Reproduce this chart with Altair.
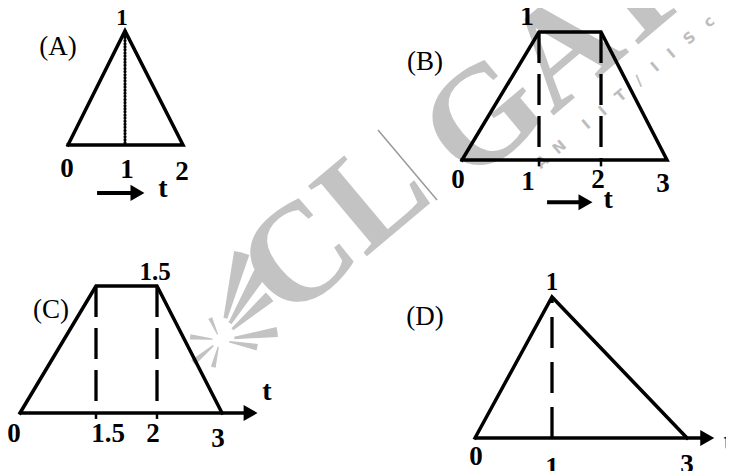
import altair as alt
import pandas as pd

# ---------------- data ----------------
# (A) triangle
a_t = [0, 1, 2]
a_v = [0, 1, 0]
a_ticks = [0, 1, 2]
a_tick_text = ["0", "1", "2"]
a_peak = (1, 1, "1")
a_guides = [1]

# (B) trapezoid
b_t = [0, 1, 2, 3]
b_v = [0, 1, 1, 0]
b_ticks = [0, 1, 2, 3]
b_tick_text = ["0", "1", "2", "3"]
b_peak = (1, 1, "1")
b_guides = [1, 2]

# (C) trapezoid
c_t = [0, 1.5, 2, 3]
c_v = [0, 1.5, 1.5, 0]
c_ticks = [0, 1.5, 2, 3]
c_tick_text = ["0", "1.5", "2", "3"]
c_peak = (2, 1.5, "1.5")
c_guides = [1.5, 2]

# (D) triangle
d_t = [0, 1, 3]
d_v = [0, 1, 0]
d_ticks = [0, 1, 3]
d_tick_text = ["0", "1", "3"]
d_peak = (1, 1, "1")
d_guides = [1]

# ---------------- layout / style ----------------
OFF = 8
FONT = "Liberation Serif"
INK = "black"
LW = 3.5


def px(vals):
    return [x - OFF for x in vals]


def X(field, xs):
    return alt.X(f"{field}:Q", scale=xs, axis=None)


def Y(field, ys):
    return alt.Y(f"{field}:Q", scale=ys, axis=None)


def panel(t, v, closed, ticks, tick_text, peak, guides, geom):
    xs = alt.Scale(domain=geom["xdom"], range=px(geom["xr"]), nice=False, zero=False, clamp=False)
    ys = alt.Scale(domain=geom["ydom"], range=px(geom["yr"]), nice=False, zero=False, clamp=False)
    layers = []

    # guide lines (dashed / dotted)
    peak_v = max(v)
    gdf = pd.DataFrame({"t": guides, "top": [peak_v] * len(guides), "bot": [0] * len(guides)})
    if geom["guide_from_top"]:
        genc = dict(x=X("t", xs), y=Y("top", ys), y2=alt.Y2("bot:Q"))
    else:
        genc = dict(x=X("t", xs), y=Y("bot", ys), y2=alt.Y2("top:Q"))
    layers.append(alt.Chart(gdf).mark_rule(color=INK, **geom["guide_style"]).encode(**genc))

    # small tick marks under the base at the guide positions
    if geom.get("tick_v") is not None:
        kdf = pd.DataFrame({"t": guides, "a": [0] * len(guides), "b": [geom["tick_v"]] * len(guides)})
        layers.append(alt.Chart(kdf).mark_rule(color=INK, strokeWidth=2.5).encode(
            x=X("t", xs), y=Y("a", ys), y2=alt.Y2("b:Q")))

    # axis line with arrow (C, D)
    if geom.get("axis_end") is not None:
        adf = pd.DataFrame({"t": [0], "t2": [geom["axis_end"]], "v": [0]})
        layers.append(alt.Chart(adf).mark_rule(color=INK, strokeWidth=LW).encode(
            x=X("t", xs), x2=alt.X2("t2:Q"), y=Y("v", ys)))

    # outline of the pulse
    pt = list(t) + ([t[0]] if closed else [])
    pv = list(v) + ([v[0]] if closed else [])
    odf = pd.DataFrame({"t": pt, "v": pv, "o": list(range(len(pt)))})
    layers.append(alt.Chart(odf).mark_line(color=INK, strokeWidth=LW, strokeJoin="miter",
                                           strokeCap="square").encode(
        x=X("t", xs), y=Y("v", ys), order="o:Q"))

    # separate arrow (A, B)
    if geom.get("arrow") is not None:
        a0, a1, av = geom["arrow"]
        ldf = pd.DataFrame({"t": [a0], "t2": [a1], "v": [av]})
        layers.append(alt.Chart(ldf).mark_rule(color=INK, strokeWidth=4).encode(
            x=X("t", xs), x2=alt.X2("t2:Q"), y=Y("v", ys)))

    # arrow head
    ht, hv = geom["head"]
    hdf = pd.DataFrame({"t": [ht], "v": [hv]})
    layers.append(alt.Chart(hdf).mark_point(shape="triangle-right", filled=True, color=INK,
                                            size=geom.get("head_size", 260), opacity=1).encode(
        x=X("t", xs), y=Y("v", ys)))

    # tick labels
    for tk, tx, (dx, dy) in zip(ticks, tick_text, geom["tick_off"]):
        tdf = pd.DataFrame({"t": [tk], "v": [0], "s": [tx]})
        layers.append(alt.Chart(tdf).mark_text(font=FONT, fontWeight="bold", fontSize=geom["tick_size"],
                                               align="center", baseline="alphabetic", dx=dx, dy=dy,
                                               color=INK).encode(
            x=X("t", xs), y=Y("v", ys), text="s:N"))

    # peak label
    pk_t, pk_v, pk_s = peak
    pdx, pdy = geom["peak_off"]
    pdf = pd.DataFrame({"t": [pk_t], "v": [pk_v], "s": [pk_s]})
    layers.append(alt.Chart(pdf).mark_text(font=FONT, fontWeight="bold", fontSize=geom["peak_size"],
                                           align="center", baseline="alphabetic", dx=pdx, dy=pdy,
                                           color=INK).encode(
        x=X("t", xs), y=Y("v", ys), text="s:N"))

    # "t" label
    tt, tv = geom["t_label"]
    ttdf = pd.DataFrame({"t": [tt], "v": [tv], "s": ["t"]})
    layers.append(alt.Chart(ttdf).mark_text(font=FONT, fontWeight="bold", fontSize=28,
                                            align="center", baseline="alphabetic", color=INK).encode(
        x=X("t", xs), y=Y("v", ys), text="s:N"))

    # panel name
    nt, nv, ns = geom["name"]
    ndf = pd.DataFrame({"t": [nt], "v": [nv], "s": [ns]})
    layers.append(alt.Chart(ndf).mark_text(font=FONT, fontSize=27, align="center",
                                           baseline="alphabetic", color=INK).encode(
        x=X("t", xs), y=Y("v", ys), text="s:N"))
    return layers


dash = dict(strokeWidth=3.3, strokeDash=[31, 11])
dots = dict(strokeWidth=3, strokeDash=[0.5, 2.6], strokeCap="round")

geomA = dict(xdom=[0, 1, 2], xr=[68, 125, 183], ydom=[0, 1], yr=[145, 31],
             guide_from_top=True, guide_style=dots,
             arrow=(0.51, 1.22, -0.42), head=(1.215, -0.42),
             tick_off=[(-1, 32), (2, 33), (-1, 35)], tick_size=27,
             peak_off=(-3, -6), peak_size=23,
             t_label=(1.655, -0.456), name=(-0.175, 0.79, "(A)"))
geomB = dict(xdom=[0, 1, 2, 3], xr=[462, 539, 601, 667], ydom=[0, 1], yr=[160, 32],
             guide_from_top=True, guide_style=dash, tick_v=-0.05,
             arrow=(1.13, 1.75, -0.33), head=(1.75, -0.33),
             tick_off=[(-4, 28), (-11, 30), (-3, 28), (-4, 32)], tick_size=27,
             peak_off=(-12, -7), peak_size=28,
             t_label=(2.11, -0.375), name=(-0.48, 0.70, "(B)"))
geomC = dict(xdom=[0, 1.5, 2, 3], xr=[20, 96, 157, 222], ydom=[0, 1.5], yr=[413, 286],
             guide_from_top=True, guide_style=dash, tick_v=-0.07, axis_end=3.44,
             head=(3.44, 0),
             tick_off=[(-6, 29), (12, 29), (-4, 29), (-4, 34)], tick_size=27,
             peak_off=(-2, -6), peak_size=25,
             t_label=(3.69, 0.153), name=(0.61, 1.12, "(C)"))
geomD = dict(xdom=[0, 1, 3], xr=[475, 552, 687], ydom=[0, 1], yr=[438, 297],
             guide_from_top=False, guide_style=dict(strokeWidth=3.3, strokeDash=[31, 14]),
             axis_end=3.30, head=(3.30, 0),
             tick_off=[(1, 27), (0, 38), (0, 35)], tick_size=27,
             peak_off=(0, -7), peak_size=25,
             t_label=(3.61, -0.085), name=(-0.65, 0.80, "(D)"))

# ---------------- watermark (decoration) ----------------
WM = "#c3c3c3"
NB = "\u00a0"
wm_text = (NB * 2).join(["A", "N"]) + NB * 5 + (NB * 3).join(["I", "I", "T", "/", "I", "I", "S", "c"])
wm_layers = [
    alt.Chart(pd.DataFrame({"s": ["CL"]})).mark_text(
        font=FONT, fontWeight="bold", fontSize=140, angle=320, align="center",
        baseline="middle", color=WM).encode(
        x=alt.value(335 - OFF), y=alt.value(228 - OFF), text="s:N"),
    alt.Chart(pd.DataFrame({"s": ["GATE"]})).mark_text(
        font=FONT, fontWeight="bold", fontSize=140, angle=320, align="center",
        baseline="middle", color=WM).encode(
        x=alt.value(590 - OFF), y=alt.value(30 - OFF), text="s:N"),
    alt.Chart(pd.DataFrame({"s": [wm_text]})).mark_text(
        font="DejaVu Sans", fontWeight="bold", fontSize=15, angle=320, align="center",
        baseline="middle", color="#bdbdbd").encode(
        x=alt.value(625 - OFF), y=alt.value(92 - OFF), text="s:N"),
    alt.Chart(pd.DataFrame({"k": [0]})).mark_rule(color="#9a9a9a", strokeWidth=1.5).encode(
        x=alt.value(378 - OFF), x2=alt.value(437 - OFF), y=alt.value(130 - OFF), y2=alt.value(200 - OFF)),
]

# pinwheel blades of the logo: (direction clockwise from up, length)
blade_dir = [14, 31, 49, 82, 101, 276, 336, 230, 194]
blade_len = [90, 78, 66, 58, 38, 30, 24, 35, 28]
DEG = 3.14159265 / 180
for ang, ln in zip(blade_dir, blade_len):
    wm_layers.append(
        alt.Chart(pd.DataFrame({"k": [0]})).mark_arc(color=WM).encode(
            x=alt.value(220 - OFF), y=alt.value(340 - OFF),
            theta=alt.value((ang - 5) * DEG + 6.2831853),
            theta2=alt.value((ang + 5) * DEG + 6.2831853),
            radius=alt.value(ln), radius2=alt.value(ln * 0.25)))

layers = wm_layers
layers += panel(a_t, a_v, True, a_ticks, a_tick_text, a_peak, a_guides, geomA)
layers += panel(b_t, b_v, True, b_ticks, b_tick_text, b_peak, b_guides, geomB)
layers += panel(c_t, c_v, False, c_ticks, c_tick_text, c_peak, c_guides, geomC)
layers += panel(d_t, d_v, False, d_ticks, d_tick_text, d_peak, d_guides, geomD)

chart = alt.layer(*layers).resolve_scale(x="independent", y="independent").properties(
    width=718, height=463, padding=0, autosize=alt.AutoSizeParams(type="none"),
    background="white",
).configure_view(stroke=None)

chart.save("out.html", embed_options={"renderer": "svg", "actions": False})
